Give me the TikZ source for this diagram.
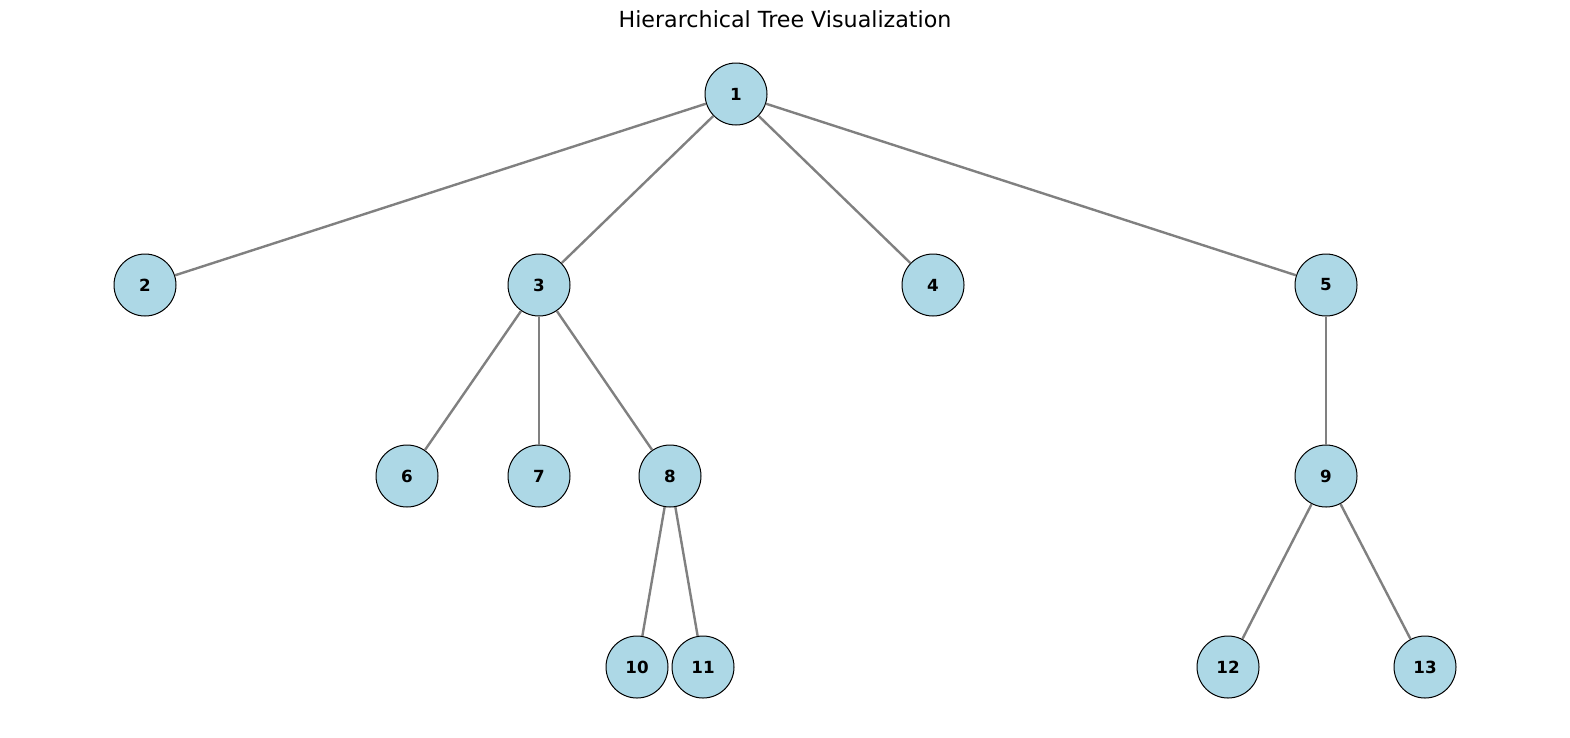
\documentclass[tikz,border=0pt]{standalone}
\usepackage{fontspec}
\setmainfont{DejaVu Sans}
\definecolor{lightblue}{HTML}{ADD8E6}
\begin{document}
\begin{tikzpicture}[x=1pt,y=-1pt,
  treenode/.style={circle,draw=black,line width=1pt,fill=lightblue,minimum size=62pt,inner sep=0pt,font=\fontsize{16.7}{18}\selectfont\bfseries},
  edge/.style={draw=gray,line width=2.4pt}]
\useasboundingbox (0,0) rectangle (1570,737);
\node[font=\fontsize{22.2}{26}\selectfont] (title) at (785,19) {Hierarchical Tree Visualization};
\node[treenode] (n1) at (736,94) {1};
\node[treenode] (n2) at (145,285) {2};
\node[treenode] (n3) at (539,285) {3};
\node[treenode] (n4) at (933,285) {4};
\node[treenode] (n5) at (1326,285) {5};
\node[treenode] (n6) at (407,476) {6};
\node[treenode] (n7) at (539,476) {7};
\node[treenode] (n8) at (670,476) {8};
\node[treenode] (n9) at (1326,476) {9};
\node[treenode] (n10) at (637,667) {10};
\node[treenode] (n11) at (703,667) {11};
\node[treenode] (n12) at (1228,667) {12};
\node[treenode] (n13) at (1425,667) {13};
\foreach \a/\b in {n1/n2,n1/n3,n1/n4,n1/n5,n3/n6,n3/n7,n3/n8,n5/n9,n8/n10,n8/n11,n9/n12,n9/n13}
  \draw[edge] (\a) -- (\b);
\end{tikzpicture}
\end{document}
